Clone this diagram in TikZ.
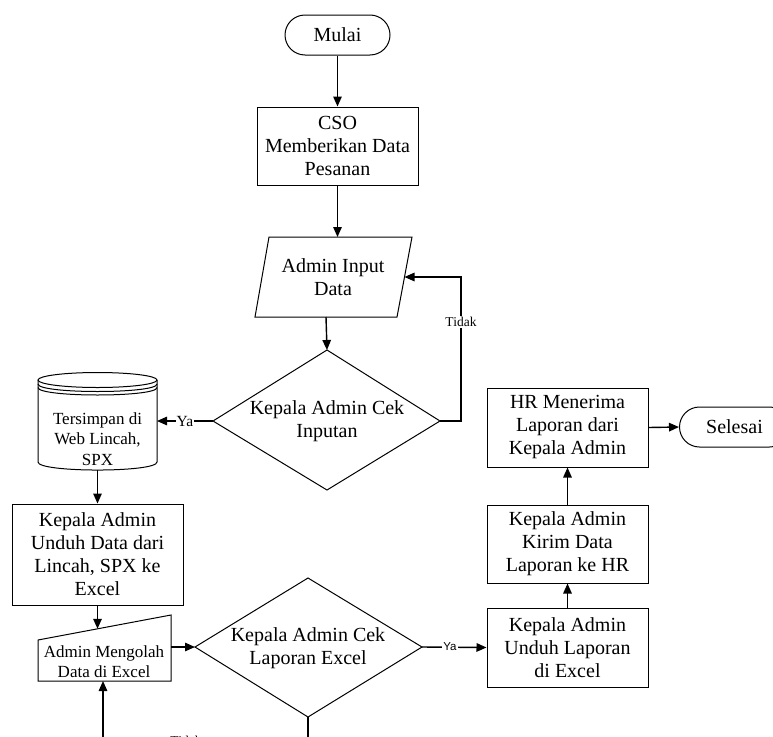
\documentclass[tikz,border=0pt]{standalone}
\usepackage{fontspec}
\setmainfont{Liberation Serif}
\newfontfamily\sansf{Liberation Sans}
\usetikzlibrary{arrows.meta}
\begin{document}
\begin{tikzpicture}[x=1pt,y=-1pt,
  shapeline/.style={line width=1pt},
  flow/.style={line width=1.4pt,-{Triangle[length=10pt,width=8.5pt]}},
  big/.style={font=\fontsize{20}{23}\selectfont, align=center},
  mid/.style={font=\fontsize{17}{20.5}\selectfont, align=center},
  procbox/.style={draw, shapeline, big, inner sep=0pt},
  term/.style={draw, shapeline, rounded corners=20pt, minimum height=40pt, big, inner sep=0pt},
  lbl/.style={fill=white, inner sep=1pt, font=\fontsize{13.5}{14}\selectfont},
]
\useasboundingbox (0,0) rectangle (773,736);
\fill[white] (0,0) rectangle (773,736);
\clip (0,0) rectangle (773,736);

% start
\node[term, minimum width=105pt] (mulai) at (337.5,35) {Mulai};
\node[procbox, minimum width=161pt, minimum height=78pt] (cso) at (337.5,146) {CSO\\Memberikan Data\\Pesanan};

% input parallelogram
\draw[shapeline] (269,237) -- (412,237) -- (397,317) -- (255,317) -- cycle;
\node[big] (input) at (333,277) {Admin Input\\Data};
\coordinate (inputT) at (337.5,237);
\coordinate (inputB) at (326,317);
\coordinate (inputR) at (404.5,277);

% decision 1
\draw[shapeline] (327,350) -- (440,421) -- (327,490) -- (213,421) -- cycle;
\node[big] (cek1) at (327,421) {Kepala Admin Cek\\Inputan};
\coordinate (d1T) at (327,350);
\coordinate (d1R) at (440,421);
\coordinate (d1L) at (213,421);

% storage
\draw[shapeline] (38,380) -- (38,462) .. controls (38,472.7) and (157,472.7) .. (157,462) -- (157,380);
\draw[shapeline] (97.5,380) ellipse [x radius=59.5, y radius=7.5];
\draw[shapeline] (38,384) .. controls (38,394) and (157,394) .. (157,384);
\draw[shapeline] (38,387.5) .. controls (38,397.5) and (157,397.5) .. (157,387.5);
\node[mid] (db) at (97.5,439) {Tersimpan di\\Web Lincah,\\SPX};
\coordinate (dbR) at (157,421);
\coordinate (dbB) at (97.5,470);

% unduh data
\node[procbox, minimum width=171pt, minimum height=101pt] (unduh) at (97.5,554.5) {Kepala Admin\\Unduh Data dari\\Lincah, SPX ke\\Excel};

% manual input
\draw[shapeline] (38,640) -- (171,615) -- (171,681) -- (38,681) -- cycle;
\node[mid] (olah) at (104,661.5) {Admin Mengolah\\Data di Excel};
\coordinate (olahT) at (97.5,628.8);
\coordinate (olahR) at (171,647);
\coordinate (olahB) at (103,681);

% decision 2
\draw[shapeline] (308,578) -- (422,647) -- (308,717) -- (195,647) -- cycle;
\node[big] (cek2) at (308,648) {Kepala Admin Cek\\Laporan Excel};
\coordinate (d2L) at (195,647);
\coordinate (d2R) at (422,647);
\coordinate (d2B) at (308,717);
\coordinate (loopA) at (308,741);

% right column
\node[procbox, minimum width=161pt, minimum height=79pt] (lap) at (567.5,647.5) {Kepala Admin\\Unduh Laporan\\di Excel};
\node[procbox, minimum width=161pt, minimum height=78pt] (kirim) at (567.5,544) {Kepala Admin\\Kirim Data\\Laporan ke HR};
\node[procbox, minimum width=161pt, minimum height=79pt] (hr) at (567.5,427.5) {HR Menerima\\Laporan dari\\Kepala Admin};
\node[term, minimum width=110pt, anchor=west] (selesai) at (679,427) {Selesai};

% connectors
\draw[flow] (mulai) -- (cso);
\draw[flow] (cso.south) -- (inputT);
\draw[flow] (inputB) -- (d1T);
\draw[flow] (d1R) -- ++(21,0) |- (inputR);
\node[lbl] (tidak1) at (461,322) {Tidak};
\draw[flow] (d1L) -- (dbR);
\node[lbl, font=\fontsize{15.5}{16}\selectfont] (ya1) at (185,421) {Ya};
\draw[flow] (dbB) -- (unduh.north);
\draw[flow] (unduh.south) -- (olahT);
\draw[flow] (olahR) -- (d2L);
\draw[flow] (d2R) -- (lap.west);
\node[lbl, font=\sansf\fontsize{11.5}{12}\selectfont] (ya2) at (450,647) {Ya};
\draw[flow] (lap.north) -- (kirim.south);
\draw[flow] (kirim.north) -- (hr.south);
\draw[flow] (hr.east) -- (selesai.west);
\draw[flow] (d2B) -- (loopA) -| (olahB);
\node[lbl] (tidak2) at (186,741) {Tidak};
\end{tikzpicture}
\end{document}
